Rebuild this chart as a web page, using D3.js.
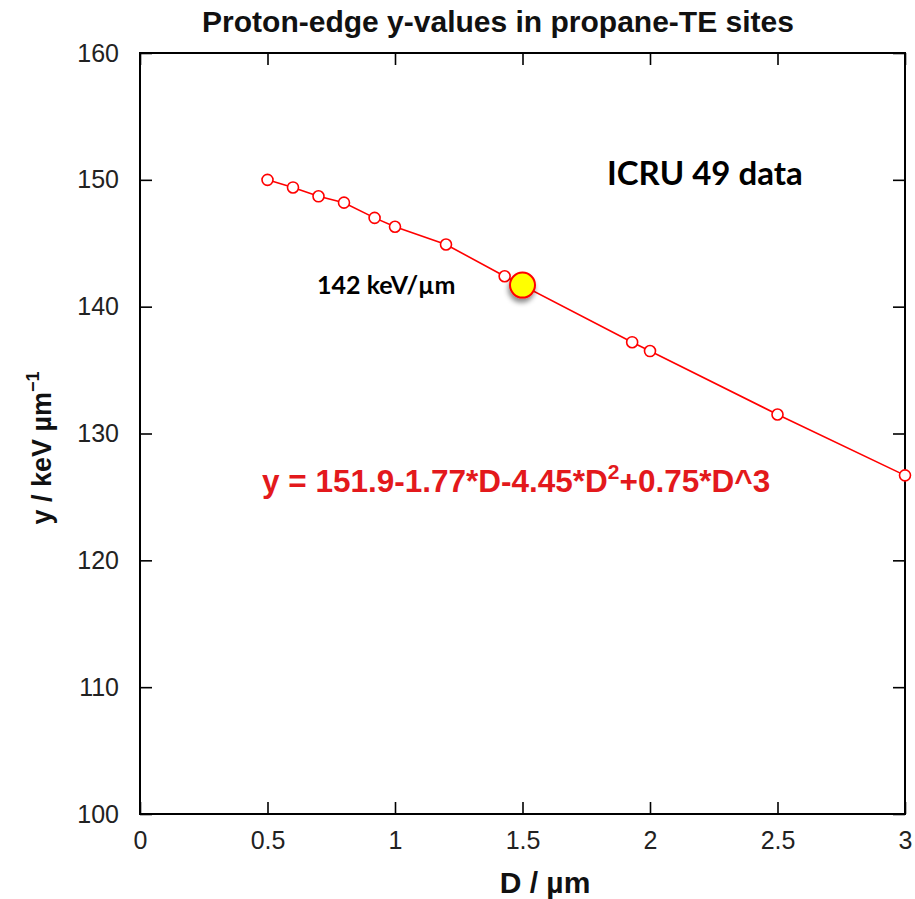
<!DOCTYPE html>
<html>
<head>
<meta charset="utf-8">
<script src="https://cdn.jsdelivr.net/npm/d3@7"></script>
<style>
  html, body { margin: 0; padding: 0; background: #fff; }
  svg { display: block; }
</style>
</head>
<body>
<svg id="chart" width="915" height="899"></svg>
<script>
// Site diameter D (µm) and proton-edge lineal energy y (keV/µm)
const diameters = [0.5, 0.6, 0.7, 0.8, 0.92, 1.0, 1.2, 1.43, 1.93, 2.0, 2.5, 3.0];
const yValues    = [150.0, 149.4, 148.7, 148.2, 147.0, 146.3, 144.9, 142.4, 137.2, 136.5, 131.5, 126.7];

// Highlighted site
const highlightD = 1.5;
const highlightY = 141.7;

const xTicks = [0, 0.5, 1, 1.5, 2, 2.5, 3];
const yTicks = [100, 110, 120, 130, 140, 150, 160];

const titleText = "Proton-edge y-values in propane-TE sites";
const sourceText = "ICRU 49 data";

const svg = d3.select("#chart");
const W = 915, H = 899;
const margin = { left: 140, right: 10, top: 53, bottom: 85 };
const iw = W - margin.left - margin.right;
const ih = H - margin.top - margin.bottom;

const x = d3.scaleLinear().domain([0, 3]).range([0, iw]);
const y = d3.scaleLinear().domain([100, 160]).range([ih, 0]);

const g = svg.append("g").attr("transform", `translate(${margin.left},${margin.top})`);

const sans = "'Liberation Sans', Arial, Helvetica, sans-serif";
const humanist = "Lato, 'Open Sans', sans-serif";

// Drop shadow for the highlighted marker
const defs = svg.append("defs");
const f = defs.append("filter").attr("id", "shadow")
  .attr("x", "-50%").attr("y", "-50%").attr("width", "200%").attr("height", "200%");
f.append("feDropShadow").attr("dx", -1).attr("dy", 4).attr("stdDeviation", 2.5)
  .attr("flood-color", "#000").attr("flood-opacity", 0.45);

// Axes with inward ticks on all four sides
const tickLen = 12;
const axisStyle = sel => {
  sel.select(".domain").remove();
  sel.selectAll(".tick line").attr("stroke", "#000").attr("stroke-width", 1.6);
  sel.selectAll(".tick text").attr("font-family", sans).attr("font-size", 25).attr("fill", "#222");
};

g.append("g").attr("transform", `translate(0,${ih})`)
  .call(d3.axisBottom(x).tickValues(xTicks).tickFormat(d3.format("")).tickSizeInner(-tickLen).tickPadding(17))
  .call(axisStyle);
g.append("g")
  .call(d3.axisTop(x).tickValues(xTicks).tickFormat("").tickSizeInner(-tickLen))
  .call(axisStyle);
g.append("g")
  .call(d3.axisLeft(y).tickValues(yTicks).tickFormat(d3.format("d")).tickSizeInner(-tickLen).tickPadding(21))
  .call(axisStyle);
g.append("g").attr("transform", `translate(${iw},0)`)
  .call(d3.axisRight(y).tickValues(yTicks).tickFormat("").tickSizeInner(-tickLen))
  .call(axisStyle);

// Plot frame
g.append("rect").attr("x", 0).attr("y", 0).attr("width", iw).attr("height", ih)
  .attr("fill", "none").attr("stroke", "#000").attr("stroke-width", 2);

// Data line and open markers
const pts = diameters.map((d, i) => ({ d, v: yValues[i] }));
g.append("path").datum(pts)
  .attr("fill", "none").attr("stroke", "#f00").attr("stroke-width", 1.6)
  .attr("d", d3.line().x(p => x(p.d)).y(p => y(p.v)));

g.selectAll("circle.pt").data(pts).join("circle").attr("class", "pt")
  .attr("cx", p => x(p.d)).attr("cy", p => y(p.v)).attr("r", 5.5)
  .attr("fill", "#fff").attr("stroke", "#f00").attr("stroke-width", 1.6);

// Highlighted site
g.append("circle")
  .attr("cx", x(highlightD)).attr("cy", y(highlightY)).attr("r", 12.5)
  .attr("fill", "#ffff00").attr("stroke", "#f00").attr("stroke-width", 2)
  .attr("filter", "url(#shadow)");

g.append("text")
  .attr("x", x(highlightD) - 67).attr("y", y(highlightY) + 9)
  .attr("text-anchor", "end")
  .attr("font-family", humanist).attr("font-weight", "bold").attr("font-size", 25).attr("fill", "#000")
  .text(`${d3.format(".0f")(highlightY)} keV/µm`);

// Source annotation
g.append("text")
  .attr("x", 467).attr("y", 132)
  .attr("font-family", humanist).attr("font-weight", "bold").attr("font-size", 33).attr("fill", "#000")
  .text(sourceText);

// Fit equation
const eq = g.append("text")
  .attr("x", 122).attr("y", 439)
  .attr("font-family", sans).attr("font-weight", "bold").attr("font-size", 31.5).attr("fill", "#e3191c");
eq.append("tspan").text("y = 151.9-1.77*D-4.45*D");
eq.append("tspan").attr("dy", -13).attr("font-size", 21).text("2");
eq.append("tspan").attr("dy", 13).text("+0.75*D^3");

// Title
svg.append("text")
  .attr("x", 498).attr("y", 32).attr("text-anchor", "middle")
  .attr("font-family", sans).attr("font-weight", "bold").attr("font-size", 30).attr("fill", "#111")
  .text(titleText);

// Axis titles
svg.append("text")
  .attr("x", 545).attr("y", 893).attr("text-anchor", "middle")
  .attr("font-family", sans).attr("font-weight", "bold").attr("font-size", 30).attr("fill", "#111")
  .text("D / µm");

const yl = svg.append("text")
  .attr("transform", "translate(51,448) rotate(-90)").attr("text-anchor", "middle")
  .attr("font-family", sans).attr("font-weight", "bold").attr("font-size", 27).attr("fill", "#111");
yl.append("tspan").text("y / keV µm");
yl.append("tspan").attr("dy", -12).attr("font-size", 18).text("−1");
</script>
</body>
</html>
